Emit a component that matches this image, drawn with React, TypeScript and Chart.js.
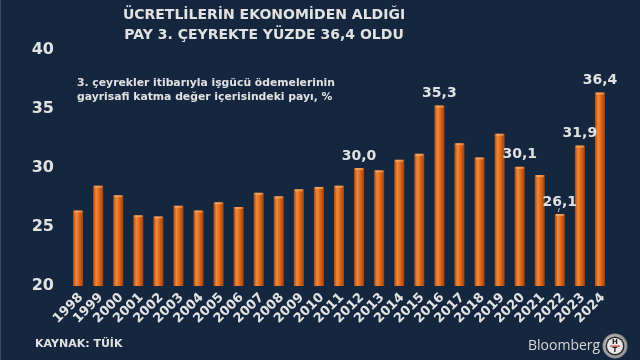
import React, { useEffect, useRef } from "react";
import { Chart, registerables } from "chart.js";

Chart.register(...registerables);

const years = ["1998","1999","2000","2001","2002","2003","2004","2005","2006","2007","2008","2009","2010","2011","2012","2013","2014","2015","2016","2017","2018","2019","2020","2021","2022","2023","2024"];
const values = [26.4,28.5,27.7,26.0,25.9,26.8,26.4,27.1,26.7,27.9,27.6,28.2,28.4,28.5,30.0,29.8,30.7,31.2,35.3,32.1,30.9,32.9,30.1,29.4,26.1,31.9,36.4];
const labeledYears = ["2012","2016","2020","2022","2023","2024"];
const leaderYears = ["2022"];
const titleLines = ["ÜCRETLİLERİN EKONOMİDEN ALDIĞI", "PAY 3. ÇEYREKTE YÜZDE 36,4 OLDU"];
const subtitleLines = ["3. çeyrekler itibarıyla işgücü ödemelerinin", "gayrisafi katma değer içerisindeki payı, %"];
const sourceText = "KAYNAK: TÜİK";
const brandText = "Bloomberg";
const yMin = 20;
const yMax = 40;
const yStep = 5;

const BG = "#15263f";
const TXT = "#e2e2e2";
const FONT = "'DejaVu Sans', Verdana, sans-serif";

const decorPlugin = {
  id: "decor",
  beforeDraw(chart: any) {
    const { ctx, width, height } = chart;
    ctx.save();
    ctx.fillStyle = BG;
    ctx.fillRect(0, 0, width, height);
    ctx.fillStyle = "#3b4b63";
    ctx.fillRect(0, 0, 1, height);
    ctx.restore();
  },
  afterDatasetsDraw(chart: any) {
    const { ctx } = chart;
    const meta = chart.getDatasetMeta(0);
    ctx.save();
    meta.data.forEach((el: any) => {
      ctx.fillStyle = "rgba(255,190,130,0.55)";
      ctx.fillRect(el.x - el.width / 2 + 1, el.y, el.width - 2, 2);
    });
    ctx.fillStyle = TXT;
    ctx.font = `bold 14px ${FONT}`;
    ctx.textAlign = "center";
    ctx.textBaseline = "middle";
    years.forEach((yr, i) => {
      if (!labeledYears.includes(yr)) return;
      const el = meta.data[i];
      const txt = values[i].toFixed(1).replace(".", ",");
      ctx.fillText(txt, el.x, el.y - 12);
      if (leaderYears.includes(yr)) {
        ctx.strokeStyle = "#bfbfbf";
        ctx.lineWidth = 1;
        ctx.beginPath();
        ctx.moveTo(el.x - 0.5, el.y - 6);
        ctx.lineTo(el.x - 1.5, el.y - 2);
        ctx.stroke();
      }
    });
    ctx.restore();
  },
  afterDraw(chart: any) {
    const { ctx } = chart;
    ctx.save();
    ctx.fillStyle = TXT;
    ctx.textBaseline = "middle";
    ctx.textAlign = "center";
    ctx.font = `bold 14px ${FONT}`;
    ctx.fillText(titleLines[0], 264, 15);
    ctx.fillText(titleLines[1], 264, 35);
    ctx.textAlign = "left";
    ctx.font = `bold 10.8px ${FONT}`;
    ctx.fillText(subtitleLines[0], 77, 83);
    ctx.fillText(subtitleLines[1], 77, 97);
    ctx.font = `bold 11px ${FONT}`;
    ctx.fillText(sourceText, 35, 344);
    ctx.font = `14px 'Open Sans', ${FONT}`;
    ctx.fillStyle = "#d8d8d8";
    ctx.fillText(brandText, 528, 346);
    const cx = 615, cy = 346;
    const g = ctx.createRadialGradient(cx - 3, cy - 3, 2, cx, cy, 13);
    g.addColorStop(0, "#f2f2f2");
    g.addColorStop(1, "#8a8a8a");
    ctx.fillStyle = g;
    ctx.beginPath();
    ctx.arc(cx, cy, 12.5, 0, Math.PI * 2);
    ctx.fill();
    ctx.fillStyle = "#2a2a2a";
    ctx.beginPath();
    ctx.arc(cx, cy, 9.5, 0, Math.PI * 2);
    ctx.fill();
    ctx.fillStyle = "#e8e8e8";
    ctx.beginPath();
    ctx.arc(cx, cy, 8, 0, Math.PI * 2);
    ctx.fill();
    ctx.fillStyle = "#222";
    ctx.textAlign = "center";
    ctx.font = `bold 7px ${FONT}`;
    ctx.fillText("H", cx, cy - 3.5);
    ctx.fillText("T", cx, cy + 3.8);
    ctx.fillStyle = "#c0392b";
    ctx.fillRect(cx - 5, cy - 0.5, 10, 1.2);
    ctx.restore();
  },
};

export default function App() {
  const ref = useRef<HTMLCanvasElement | null>(null);
  useEffect(() => {
    document.body.style.margin = "0";
    const canvas = ref.current!;
    const chart = new Chart(canvas, {
      type: "bar",
      data: {
        labels: years,
        datasets: [
          {
            data: values,
            barPercentage: 0.5,
            categoryPercentage: 1,
            backgroundColor: (c: any) => {
              const chartRef = c.chart;
              const xs = chartRef.scales && chartRef.scales.x;
              if (!xs || c.dataIndex === undefined) return "#e06a1a";
              const x = xs.getPixelForValue(c.dataIndex);
              if (!isFinite(x)) return "#e06a1a";
              const gr = chartRef.ctx.createLinearGradient(x - 5, 0, x + 5, 0);
              gr.addColorStop(0, "#a9470d");
              gr.addColorStop(0.3, "#f08a3c");
              gr.addColorStop(0.6, "#e0681a");
              gr.addColorStop(1, "#9e420c");
              return gr;
            },
            borderWidth: 0,
          },
        ],
      },
      options: {
        responsive: false,
        animation: false,
        events: [],
        layout: { padding: { top: 50, right: 30, left: 0, bottom: 0 } },
        plugins: {
          legend: { display: false },
          title: { display: false },
          tooltip: { enabled: false },
        },
        scales: {
          x: {
            grid: { display: false, drawTicks: false },
            border: { display: false },
            afterFit: (s: any) => {
              s.height = 74;
            },
            ticks: {
              color: TXT,
              font: { family: FONT, size: 13, weight: "bold" },
              minRotation: 45,
              maxRotation: 45,
              padding: 4,
              labelOffset: 3,
              autoSkip: false,
            },
          },
          y: {
            min: yMin,
            max: yMax,
            grid: { display: false, drawTicks: false },
            border: { display: false },
            afterFit: (s: any) => {
              s.width = 68;
            },
            ticks: {
              stepSize: yStep,
              color: TXT,
              padding: 14,
              font: { family: FONT, size: 16, weight: "bold" },
            },
          },
        },
      },
      plugins: [decorPlugin],
    } as any);
    return () => chart.destroy();
  }, []);
  return <canvas ref={ref} width={640} height={360} style={{ display: "block" }} />;
}
